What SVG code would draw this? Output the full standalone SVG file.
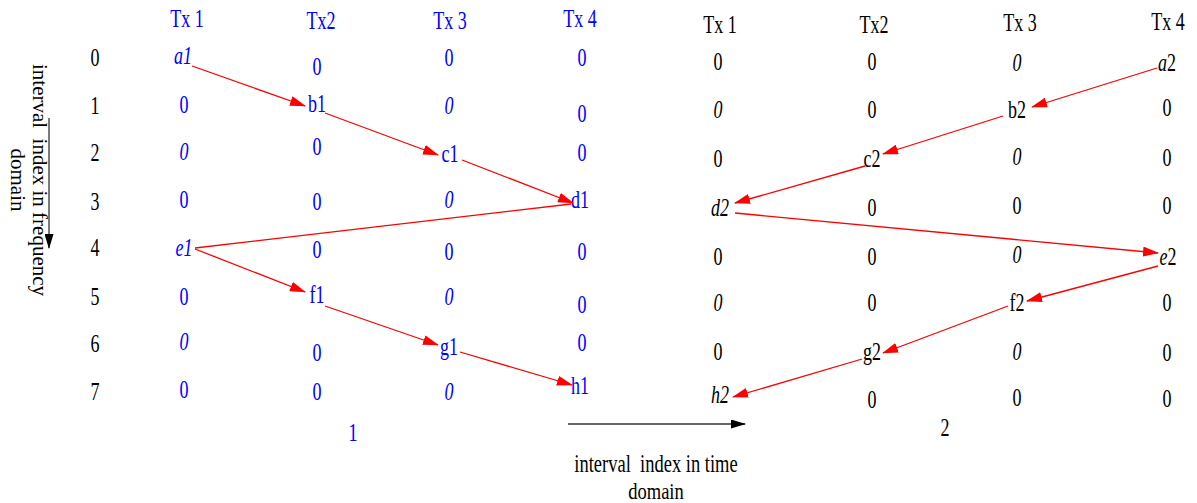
<svg xmlns="http://www.w3.org/2000/svg" width="1197" height="503" viewBox="0 0 1197 503">
<style>
text{font-family:"Liberation Serif","Times New Roman",serif;font-size:18px;text-anchor:middle}
.bl{fill:#0000ff}
.k{fill:#000}
.i{font-style:italic}
.lbl{font-size:21px;fill:#000}
.lbl2{font-size:18.5px;fill:#000}
.con{stroke:#ff0000;stroke-width:1.3;fill:none}
.ax{stroke:#333;stroke-width:1.3;fill:none}
</style>
<defs>
<marker id="ar" markerUnits="userSpaceOnUse" markerWidth="16" markerHeight="10" refX="15" refY="5" orient="auto" viewBox="0 0 16 10">
<path d="M0,0 L16,5 L0,10 z" fill="#ff0000"/>
</marker>
<marker id="ak" markerUnits="userSpaceOnUse" markerWidth="15" markerHeight="9" refX="14" refY="4.5" orient="auto" viewBox="0 0 15 9">
<path d="M0,0 L15,4.5 L0,9 z" fill="#000"/>
</marker>
</defs>
<rect width="1197" height="503" fill="#fff"/>

<g id="axes">
<line class="ax" x1="49" y1="118" x2="49" y2="248" marker-end="url(#ak)"/>
<text class="lbl" transform="translate(33 180) rotate(90)" xml:space="preserve">interval  index in frequency</text>
<text class="lbl" transform="translate(11 180) rotate(90)">domain</text>
<line class="ax" x1="568" y1="424" x2="745" y2="424" marker-end="url(#ak)"/>
<text class="lbl2" transform="translate(656 472) scale(1 1.35)" xml:space="preserve">interval  index in time</text>
<text class="lbl2" transform="translate(656 499) scale(1 1.25)">domain</text>
</g>

<g id="row-index" class="k">
<text transform="translate(95 66) scale(1 1.37)">0</text>
<text transform="translate(95 114) scale(1 1.37)">1</text>
<text transform="translate(95 161) scale(1 1.37)">2</text>
<text transform="translate(95 210) scale(1 1.37)">3</text>
<text transform="translate(95 256) scale(1 1.37)">4</text>
<text transform="translate(95 305) scale(1 1.37)">5</text>
<text transform="translate(95 352) scale(1 1.37)">6</text>
<text transform="translate(95 400) scale(1 1.37)">7</text>
</g>

<g id="interval1" class="bl">
<text class="bl" transform="translate(187 27) scale(1 1.37)">Tx 1</text>
<text class="bl" transform="translate(321 29) scale(1 1.37)">Tx2</text>
<text class="bl" transform="translate(450 29) scale(1 1.37)">Tx 3</text>
<text class="bl" transform="translate(580 27) scale(1 1.37)">Tx 4</text>
<text class="bl" transform="translate(353 441) scale(1 1.37)">1</text>
<g id="col1-1">
<text class="bl" transform="translate(184 113) scale(1 1.37)">0</text>
<text class="bl i" transform="translate(184 160) scale(1 1.37)">0</text>
<text class="bl" transform="translate(184 208) scale(1 1.37)">0</text>
<text class="bl" transform="translate(184 305) scale(1 1.37)">0</text>
<text class="bl i" transform="translate(184 350) scale(1 1.37)">0</text>
<text class="bl" transform="translate(184 398) scale(1 1.37)">0</text>
</g>
<g id="col1-2">
<text class="bl" transform="translate(317 75) scale(1 1.37)">0</text>
<text class="bl" transform="translate(317 155) scale(1 1.37)">0</text>
<text class="bl" transform="translate(317 210) scale(1 1.37)">0</text>
<text class="bl" transform="translate(317 258) scale(1 1.37)">0</text>
<text class="bl" transform="translate(317 361) scale(1 1.37)">0</text>
<text class="bl" transform="translate(317 400) scale(1 1.37)">0</text>
</g>
<g id="col1-3">
<text class="bl" transform="translate(449 66) scale(1 1.37)">0</text>
<text class="bl i" transform="translate(449 114) scale(1 1.37)">0</text>
<text class="bl i" transform="translate(449 208) scale(1 1.37)">0</text>
<text class="bl" transform="translate(449 260) scale(1 1.37)">0</text>
<text class="bl i" transform="translate(449 305) scale(1 1.37)">0</text>
<text class="bl i" transform="translate(449 400) scale(1 1.37)">0</text>
</g>
<g id="col1-4">
<text class="bl" transform="translate(582 66) scale(1 1.37)">0</text>
<text class="bl" transform="translate(582 122) scale(1 1.37)">0</text>
<text class="bl" transform="translate(582 161) scale(1 1.37)">0</text>
<text class="bl" transform="translate(582 260) scale(1 1.37)">0</text>
<text class="bl" transform="translate(582 313) scale(1 1.37)">0</text>
<text class="bl" transform="translate(582 351) scale(1 1.37)">0</text>
</g>
</g>
<g id="a1"><text class="bl i" transform="translate(183 64) scale(1 1.37)">a1</text></g>
<g id="b1"><text class="bl" transform="translate(317 112) scale(1 1.37)">b1</text></g>
<g id="c1"><text class="bl" transform="translate(450 162) scale(1 1.37)">c1</text></g>
<g id="d1"><text class="bl" transform="translate(580 208) scale(1 1.37)">d1</text></g>
<g id="e1"><text class="bl i" transform="translate(184 256) scale(1 1.37)">e1</text></g>
<g id="f1"><text class="bl" transform="translate(317 303) scale(1 1.37)">f1</text></g>
<g id="g1"><text class="bl" transform="translate(449 355) scale(1 1.37)">g1</text></g>
<g id="h1"><text class="bl" transform="translate(580 394) scale(1 1.37)">h1</text></g>

<g id="interval2" class="k">
<text transform="translate(720 33) scale(1 1.37)">Tx 1</text>
<text transform="translate(874 33) scale(1 1.37)">Tx2</text>
<text transform="translate(1020 31) scale(1 1.37)">Tx 3</text>
<text transform="translate(1168 30) scale(1 1.37)">Tx 4</text>
<text transform="translate(945 436) scale(1 1.37)">2</text>
<g id="col2-1">
<text transform="translate(718 70) scale(1 1.37)">0</text>
<text class="i" transform="translate(718 118) scale(1 1.37)">0</text>
<text transform="translate(718 167) scale(1 1.37)">0</text>
<text transform="translate(718 265) scale(1 1.37)">0</text>
<text class="i" transform="translate(718 311) scale(1 1.37)">0</text>
<text transform="translate(718 360) scale(1 1.37)">0</text>
</g>
<g id="col2-2">
<text transform="translate(872 70) scale(1 1.37)">0</text>
<text transform="translate(872 118) scale(1 1.37)">0</text>
<text transform="translate(872 216) scale(1 1.37)">0</text>
<text transform="translate(872 265) scale(1 1.37)">0</text>
<text transform="translate(872 311) scale(1 1.37)">0</text>
<text transform="translate(872 408) scale(1 1.37)">0</text>
</g>
<g id="col2-3">
<text class="i" transform="translate(1017 71) scale(1 1.37)">0</text>
<text class="i" transform="translate(1017 165) scale(1 1.37)">0</text>
<text transform="translate(1017 214) scale(1 1.37)">0</text>
<text class="i" transform="translate(1017 263) scale(1 1.37)">0</text>
<text class="i" transform="translate(1017 360) scale(1 1.37)">0</text>
<text transform="translate(1017 406) scale(1 1.37)">0</text>
</g>
<g id="col2-4">
<text transform="translate(1167 116) scale(1 1.37)">0</text>
<text transform="translate(1167 166) scale(1 1.37)">0</text>
<text transform="translate(1167 214) scale(1 1.37)">0</text>
<text transform="translate(1167 311) scale(1 1.37)">0</text>
<text transform="translate(1167 361) scale(1 1.37)">0</text>
<text transform="translate(1167 407) scale(1 1.37)">0</text>
</g>
</g>
<g id="a2"><text class="k" transform="translate(1167 71) scale(1 1.37)"><tspan class="i">a</tspan>2</text></g>
<g id="b2"><text class="k" transform="translate(1017 118) scale(1 1.37)">b2</text></g>
<g id="c2"><text class="k" transform="translate(872 167) scale(1 1.37)">c2</text></g>
<g id="d2"><text class="k i" transform="translate(720 216) scale(1 1.37)">d2</text></g>
<g id="e2"><text class="k" transform="translate(1168 265) scale(1 1.37)"><tspan class="i">e</tspan>2</text></g>
<g id="f2"><text class="k" transform="translate(1017 311) scale(1 1.37)">f2</text></g>
<g id="g2"><text class="k" transform="translate(872 360) scale(1 1.37)">g2</text></g>
<g id="h2"><text class="k i" transform="translate(720 403) scale(1 1.37)">h2</text></g>

<g id="connectors">
<line class="con" x1="192" y1="66" x2="305" y2="106" marker-end="url(#ar)"/>
<line class="con" x1="325" y1="113" x2="438" y2="155" marker-end="url(#ar)"/>
<line class="con" x1="462" y1="160" x2="573" y2="203" marker-end="url(#ar)"/>
<line class="con" x1="195" y1="248" x2="571" y2="204"/>
<line class="con" x1="195" y1="249" x2="305" y2="292" marker-end="url(#ar)"/>
<line class="con" x1="325" y1="306" x2="438" y2="345" marker-end="url(#ar)"/>
<line class="con" x1="460" y1="352" x2="572" y2="385" marker-end="url(#ar)"/>
<line class="con" x1="1157" y1="68" x2="1032" y2="107" marker-end="url(#ar)"/>
<line class="con" x1="1003" y1="116" x2="883" y2="154" marker-end="url(#ar)"/>
<line class="con" x1="865" y1="166" x2="735" y2="203" marker-end="url(#ar)"/>
<line class="con" x1="735" y1="213" x2="1158" y2="253" marker-end="url(#ar)"/>
<line class="con" x1="1158" y1="266" x2="1027" y2="301" marker-end="url(#ar)"/>
<line class="con" x1="1008" y1="306" x2="883" y2="353" marker-end="url(#ar)"/>
<line class="con" x1="862" y1="359" x2="733" y2="397" marker-end="url(#ar)"/>
</g>
</svg>
